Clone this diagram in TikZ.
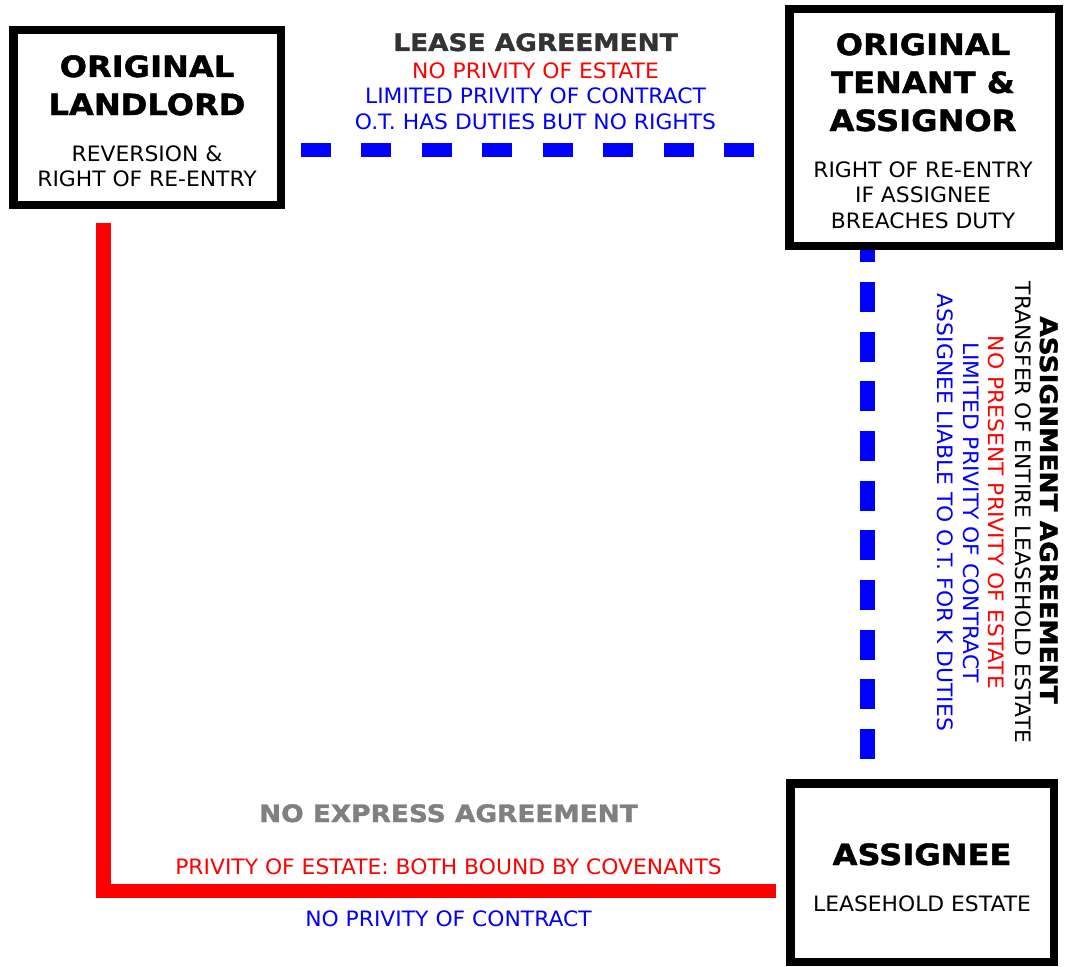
\documentclass[tikz,border=0pt]{standalone}
\usepackage{fontspec}
\setmainfont{DejaVu Sans}[FakeStretch=1.03]
\newfontfamily\headfont{DejaVu Sans}[FakeStretch=1.1, BoldFeatures={FakeBold=1.5}]
\definecolor{leasegray}{HTML}{333333}
\definecolor{expressgray}{HTML}{808080}
\definecolor{estatered}{HTML}{FF0000}
\definecolor{contractblue}{HTML}{0000FF}
\tikzset{
  partybox/.style={draw=black, line width=8.5pt, fill=white, rectangle, inner sep=0pt},
  title/.style={font=\headfont\bfseries\fontsize{29.2}{38.5}\selectfont, anchor=base, inner sep=0pt},
  heading/.style={font=\headfont\bfseries\fontsize{24}{28}\selectfont, anchor=base, inner sep=0pt},
  note/.style={font=\fontsize{21.2}{25.5}\selectfont, anchor=base, inner sep=0pt},
  upright/.style={rotate=-90},
  leaseline/.style={draw=contractblue, line width=14pt, dash pattern=on 30pt off 30.43pt},
  assignline/.style={draw=contractblue, line width=15pt, dash pattern=on 30pt off 19.67pt, dash phase=17.7pt},
  estateline/.style={draw=estatered, line width=14.5pt, line join=miter},
}
\begin{document}
\begin{tikzpicture}[x=1pt, y=-1pt]
\useasboundingbox (0,0) rectangle (1065,966);

% the three parties
\node[partybox, minimum width=267.5pt, minimum height=174.5pt] (landlord) at (147,117.5) {};
\node[partybox, minimum width=269.5pt, minimum height=236.5pt] (tenant) at (924,127.5) {};
\node[partybox, minimum width=263.5pt, minimum height=178.5pt] (assignee) at (922,872.5) {};

% original landlord
\node[title] (llA) at (147,77) {ORIGINAL};
\node[title] (llB) at (147,115) {LANDLORD};
\node[note] (llC) at (147,161) {REVERSION \&};
\node[note] (llD) at (147,186) {RIGHT OF RE-ENTRY};

% original tenant and assignor
\node[title] (otA) at (923,55) {ORIGINAL};
\node[title] (otB) at (923,93) {TENANT \&};
\node[title] (otC) at (923,131) {ASSIGNOR};
\node[note] (otD) at (923,177) {RIGHT OF RE-ENTRY};
\node[note] (otE) at (923,202) {IF ASSIGNEE};
\node[note] (otF) at (923,228) {BREACHES DUTY};

% assignee
\node[title] (asA) at (922,865) {ASSIGNEE};
\node[note] (asB) at (922,911) {LEASEHOLD ESTATE};

% lease between landlord and original tenant
\draw[leaseline] ([shift={(16,32.5)}]landlord.east) -- ([shift={(-31,22.5)}]tenant.west);
\node[heading, text=leasegray] (leA) at (535.5,51) {LEASE AGREEMENT};
\node[note, text=estatered] (leB) at (535.5,78) {NO PRIVITY OF ESTATE};
\node[note, text=contractblue] (leC) at (535.5,103) {LIMITED PRIVITY OF CONTRACT};
\node[note, text=contractblue] (leD) at (535.5,129) {O.T. HAS DUTIES BUT NO RIGHTS};

% assignment from original tenant to assignee
\draw[assignline] ([shift={(-57,0)}]tenant.south) -- ([shift={(-55,-20)}]assignee.north);
\node[heading, upright] (agA) at (1040,510) {ASSIGNMENT AGREEMENT};
\node[note, upright] (agB) at (1015,512.5) {TRANSFER OF ENTIRE LEASEHOLD ESTATE};
\node[note, upright, text=estatered] (agC) at (988,512.5) {NO PRESENT PRIVITY OF ESTATE};
\node[note, upright, text=contractblue] (agD) at (963,512.5) {LIMITED PRIVITY OF CONTRACT};
\node[note, upright, text=contractblue] (agE) at (937,512.5) {ASSIGNEE LIABLE TO O.T. FOR K DUTIES};

% privity of estate between landlord and assignee
\draw[estateline] ([shift={(-43.5,14)}]landlord.south) |- ([shift={(-10,18.5)}]assignee.west);
\node[heading, text=expressgray] (neA) at (448.5,822) {NO EXPRESS AGREEMENT};
\node[note, text=estatered] (neB) at (448.5,874) {PRIVITY OF ESTATE: BOTH BOUND BY COVENANTS};
\node[note, text=contractblue] (neC) at (448.5,926) {NO PRIVITY OF CONTRACT};
\end{tikzpicture}
\end{document}
